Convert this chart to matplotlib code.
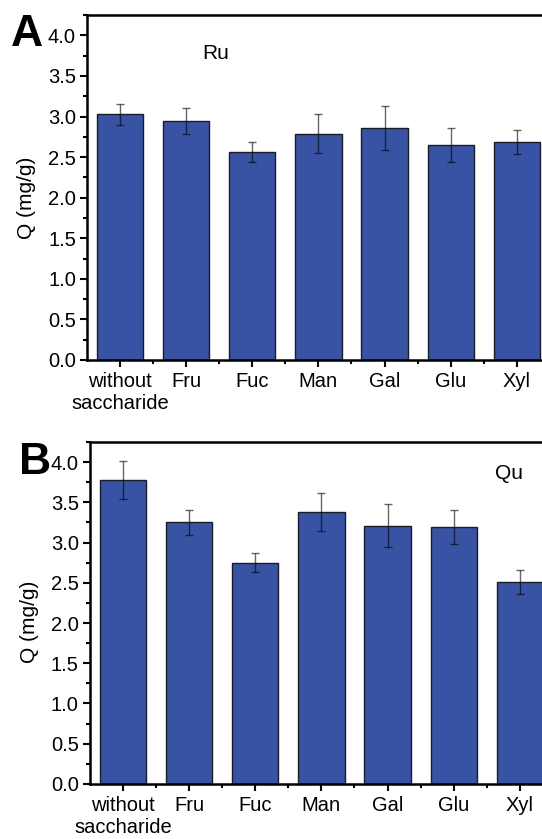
import numpy as np
import matplotlib
matplotlib.use('Agg')
import matplotlib.pyplot as plt
from matplotlib.ticker import MultipleLocator, FixedLocator

plt.rcParams['font.family'] = ['Liberation Sans', 'DejaVu Sans']

# categories on the x axis
categories = ['without\nsaccharide', 'Fru', 'Fuc', 'Man', 'Gal', 'Glu', 'Xyl']

# panel A - Ru
ru_q = [3.03, 2.95, 2.56, 2.79, 2.86, 2.65, 2.69]
ru_err = [0.13, 0.16, 0.12, 0.24, 0.27, 0.21, 0.15]

# panel B - Qu
qu_q = [3.78, 3.25, 2.75, 3.38, 3.21, 3.19, 2.51]
qu_err = [0.235, 0.16, 0.115, 0.24, 0.27, 0.21, 0.15]

bar_color = '#3953a4'

fig = plt.figure(figsize=(5.42, 8.39), dpi=100)


def draw_panel(ax, values, errs, name, name_xy, label_y):
    x = np.arange(1, len(values) + 1)
    ax.bar(x, values, width=0.7, color=bar_color, edgecolor='#1a1a2a', linewidth=1.0, zorder=2)
    ax.errorbar(x, values, yerr=errs, fmt='none', ecolor='black', alpha=0.6,
                elinewidth=1.0, capsize=3, capthick=1.0, zorder=3)
    ax.set_xlim(0.5, len(values) + 0.5)
    ax.set_ylim(0, 4.25)
    ax.set_xticks(x)
    ax.set_xticklabels(categories, fontsize=14.5, linespacing=1.15)
    ax.xaxis.set_minor_locator(FixedLocator(x[:-1] + 0.5))
    ax.yaxis.set_major_locator(MultipleLocator(0.5))
    ax.yaxis.set_minor_locator(MultipleLocator(0.25))
    ax.yaxis.set_major_formatter(matplotlib.ticker.FormatStrFormatter('%.1f'))
    ax.tick_params(axis='both', which='major', direction='out', length=5, width=1.5, labelsize=14.5)
    ax.tick_params(axis='x', which='major', pad=4)
    ax.tick_params(axis='y', which='major', pad=3)
    ax.tick_params(axis='both', which='minor', direction='out', length=3, width=1.5)
    for s in ax.spines.values():
        s.set_linewidth(1.8)
    ax.set_ylabel('Q (mg/g)', fontsize=15)
    ax.yaxis.set_label_coords(-0.11, label_y)
    ax.text(name_xy[0], name_xy[1], name, fontsize=15, ha='center', va='center')


ax_a = fig.add_axes([0.1605, 0.571, 0.854, 0.411])
draw_panel(ax_a, ru_q, ru_err, 'Ru', (2.45, 3.78), 0.47)

ax_b = fig.add_axes([0.166, 0.0656, 0.854, 0.4076])
draw_panel(ax_b, qu_q, qu_err, 'Qu', (6.83, 3.86), 0.474)

# panel letters
fig.text(11 / 542, 1 - 35 / 839, 'A', fontsize=32, fontweight='bold', ha='left', va='center')
fig.text(19 / 542, 1 - 463 / 839, 'B', fontsize=32, fontweight='bold', ha='left', va='center')

fig.savefig('out.png', dpi=100)
